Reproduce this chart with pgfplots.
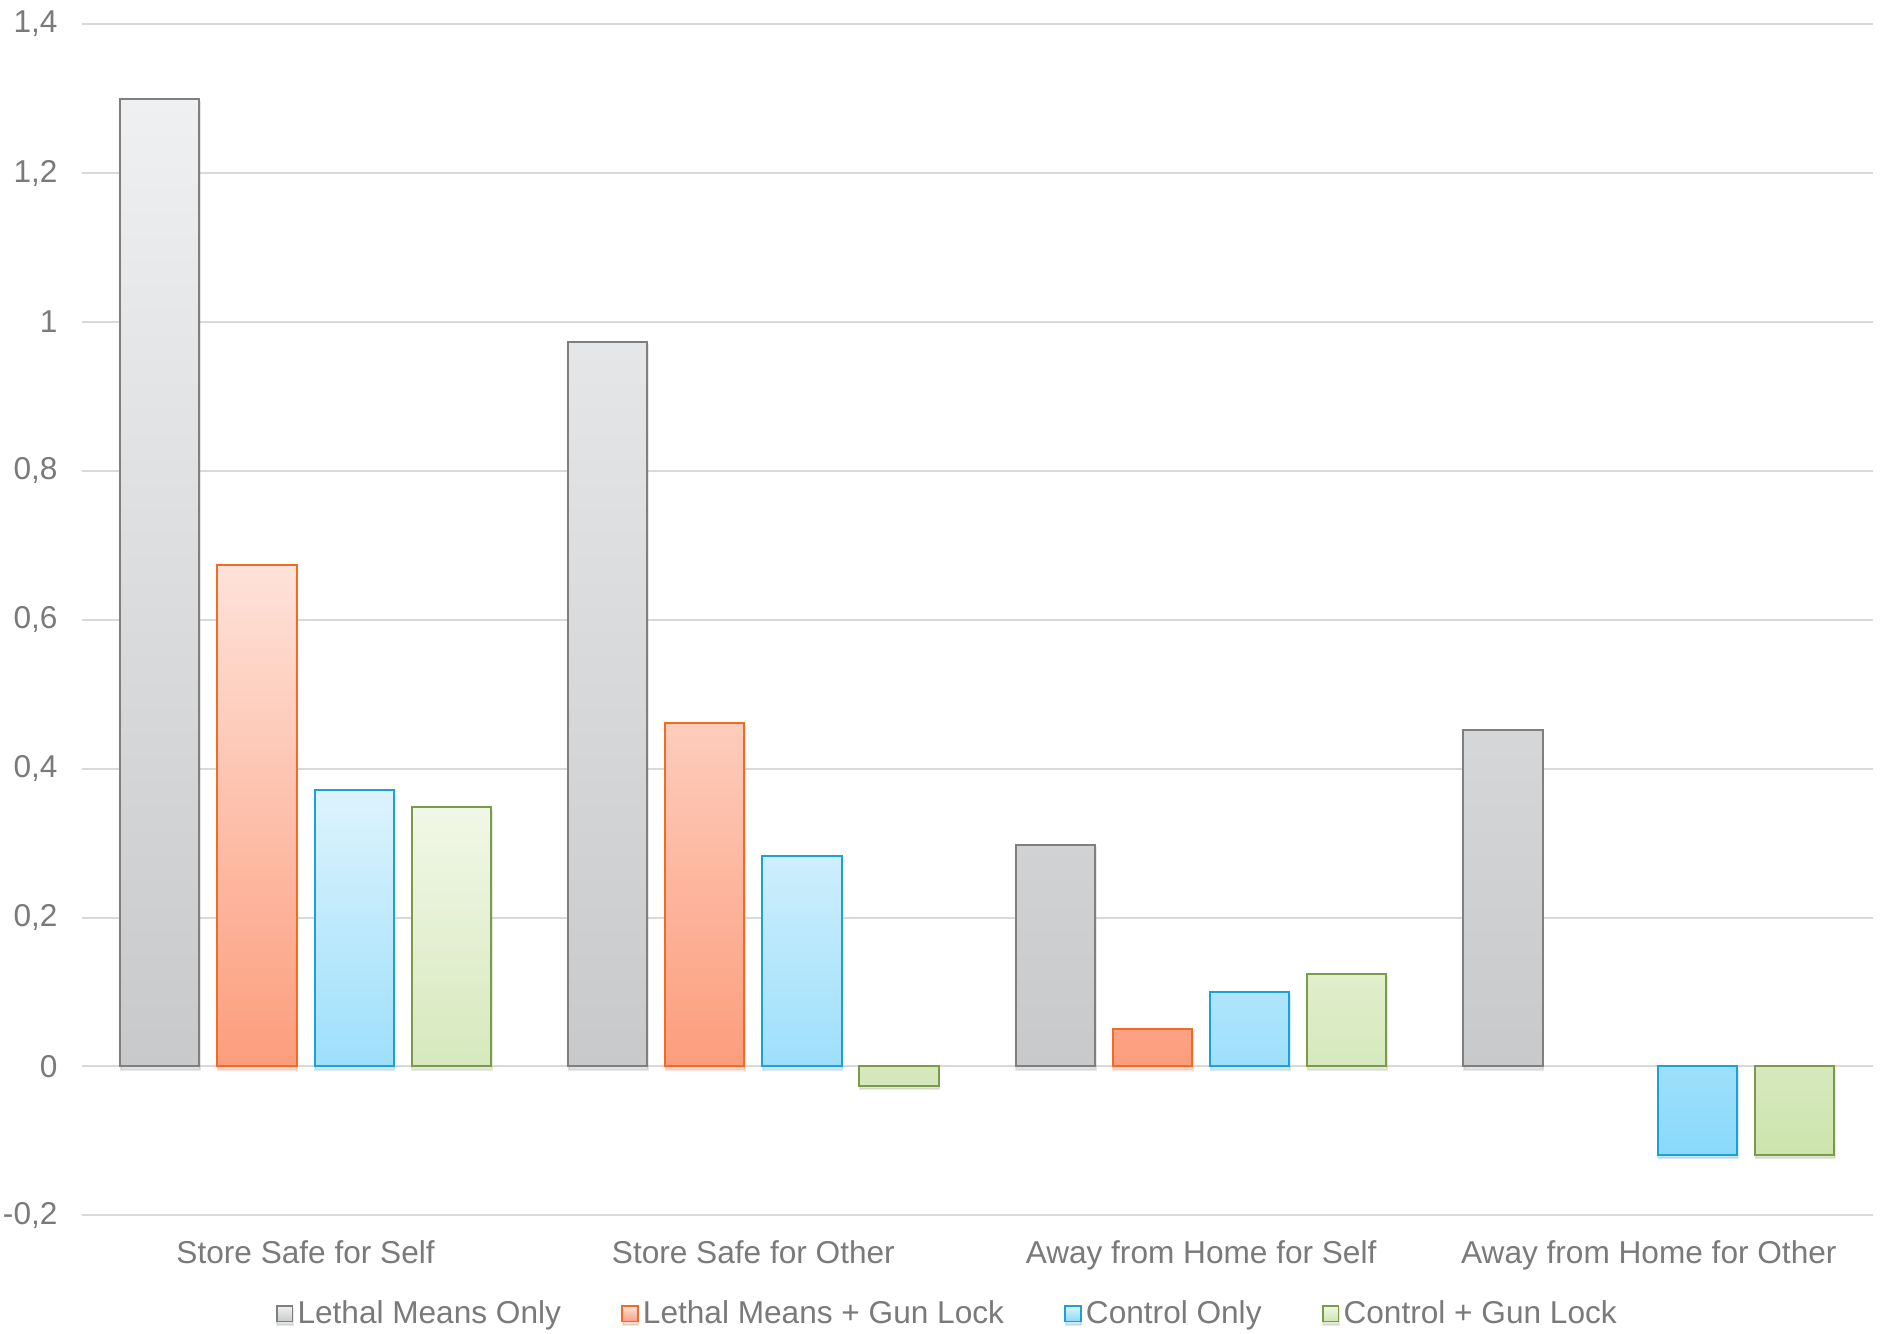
\documentclass[border=0pt]{standalone}
\usepackage{fontspec}
\setmainfont{Liberation Sans}
\usepackage{pgfplots}
\pgfplotsset{compat=1.18}
\usetikzlibrary{shadows}

\definecolor{txt}{HTML}{7A7A7A}
\definecolor{gridc}{HTML}{D9D9D9}
\definecolor{grayT}{HTML}{EFF0F2}
\definecolor{grayB}{HTML}{C8C9CB}
\definecolor{grayE}{HTML}{7F7F7F}
\definecolor{oraT}{HTML}{FEE2D9}
\definecolor{oraB}{HTML}{FC9D7C}
\definecolor{oraE}{HTML}{F26B24}
\definecolor{bluT}{HTML}{DDF3FD}
\definecolor{bluB}{HTML}{89D9FB}
\definecolor{bluE}{HTML}{1BA0D8}
\definecolor{grnT}{HTML}{F1F7E7}
\definecolor{grnB}{HTML}{CDE4AE}
\definecolor{grnE}{HTML}{7A9C4A}

\newcommand{\lblfont}{\fontsize{15.8pt}{19pt}\selectfont}

% soft shadow under every bar
\tikzset{barshadow/.style={drop shadow={opacity=0.18, shadow xshift=0.3pt, shadow yshift=-1.6pt}}}
% legend swatch: small shaded square without shadow
\pgfplotsset{swatch/.style n args={3}{legend image code/.code={%
  \draw[draw=#1, top color=#2, bottom color=#3, line width=0.8pt] (0pt,-3.9pt) rectangle (7.8pt,3.9pt);}}}

\begin{document}
\begin{tikzpicture}
\useasboundingbox (-40.85pt,-58.85pt) rectangle (900.65pt,607.65pt);
\begin{axis}[
  at={(0,0)}, anchor=south west,
  scale only axis, width=895.5pt, height=595.6pt,
  xmin=-0.5, xmax=3.5, ymin=-0.2, ymax=1.4,
  ytick={-0.2,0,0.2,0.4,0.6,0.8,1,1.2,1.4},
  yticklabels={{-0,2},{0},{0,2},{0,4},{0,6},{0,8},{1},{1,2},{1,4}},
  xtick={0,1,2,3},
  xticklabels={Store Safe for Self,Store Safe for Other,Away from Home for Self,Away from Home for Other},
  axis line style={draw=none},
  major tick length=0pt,
  ymajorgrids, grid style={gridc, line width=1pt},
  ybar, bar width=0.177,
  tick label style={font=\lblfont, text=txt},
  yticklabel style={xshift=-8.6pt},
  xticklabel style={yshift=-9.3pt},
  legend columns=4,
  legend style={draw=none, fill=none, font=\lblfont, text=txt,
    at={(0.484,-0.0827)}, anchor=center,
    /tikz/every even column/.append style={column sep=28pt},
    nodes={inner sep=2.2pt}},
]
\addplot[bar shift=-0.3255, draw=grayE, line width=1pt, top color=grayT, bottom color=grayB, barshadow,
  swatch={grayE}{grayT}{grayB}]
  coordinates {(0,1.300) (1,0.973) (2,0.298) (3,0.452)};
\addplot[bar shift=-0.1085, draw=oraE, line width=1pt, top color=oraT, bottom color=oraB, barshadow,
  swatch={oraE}{oraT}{oraB}]
  coordinates {(0,0.674) (1,0.461) (2,0.050)};
\addplot[bar shift=0.1085, draw=bluE, line width=1pt, top color=bluT, bottom color=bluB, barshadow,
  swatch={bluE}{bluT}{bluB}]
  coordinates {(0,0.371) (1,0.282) (2,0.100) (3,-0.119)};
\addplot[bar shift=0.3255, draw=grnE, line width=1pt, top color=grnT, bottom color=grnB, barshadow,
  swatch={grnE}{grnT}{grnB}]
  coordinates {(0,0.348) (1,-0.026) (2,0.124) (3,-0.119)};
\legend{Lethal Means Only,Lethal Means + Gun Lock,Control Only,Control + Gun Lock}
\end{axis}
\end{tikzpicture}
\end{document}
